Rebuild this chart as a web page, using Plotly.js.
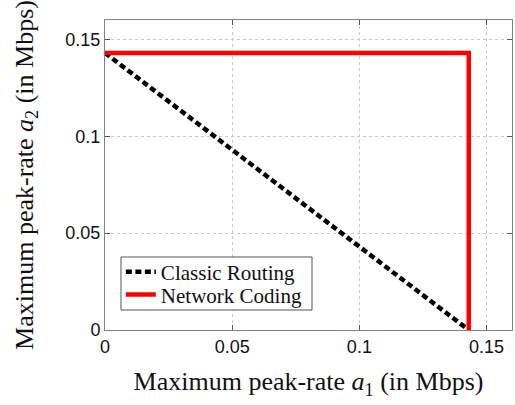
<!DOCTYPE html>
<html>
<head>
<meta charset="utf-8">
<script src="https://cdn.plot.ly/plotly-3.0.1.min.js"></script>
<style>html,body{margin:0;padding:0;background:#fff;}#chart{width:515px;height:405px;}</style>
</head>
<body>
<div id="chart"></div>
<script>
var seriesNames = ["Classic Routing", "Network Coding"];
var classicX = [0, 0.143];
var classicY = [0.143, 0];
var codingX = [0, 0.143, 0.143];
var codingY = [0.143, 0.143, 0];
var xTicks = [0, 0.05, 0.1, 0.15];
var yTicks = [0, 0.05, 0.1, 0.15];
var xTickText = ["0", "0.05", "0.1", "0.15"];
var yTickText = ["0", "0.05", "0.1", "0.15"];

var traces = [
  {x: classicX, y: classicY, mode: "lines", name: seriesNames[0], legend: "legend",
   line: {color: "#000", width: 4.5, dash: "6px,3.5px"}},
  {x: codingX, y: codingY, mode: "lines", name: seriesNames[1], legend: "legend2",
   line: {color: "#ff0000", width: 4.5}}
];

var serif = "Liberation Serif, Times New Roman, serif";
var axisCommon = {
  range: [0, 0.16], showgrid: true, gridcolor: "#c8c8c8", griddash: "dot", gridwidth: 1,
  zeroline: false, showline: true, linecolor: "#808080", linewidth: 1, mirror: "allticks",
  ticks: "inside", ticklen: 5, tickcolor: "#555", ticklabelstandoff: 0, automargin: false,
  tickfont: {family: "Liberation Sans, Arial", size: 18, color: "#111"}
};

var legendCommon = {xanchor: "left", yanchor: "middle", bgcolor: "rgba(0,0,0,0)", borderwidth: 0,
  font: {family: serif, size: 21, color: "#111"}, itemwidth: 30};

var layout = {
  width: 515, height: 405,
  margin: {l: 105, r: 3, t: 20, b: 75},
  paper_bgcolor: "#fff", plot_bgcolor: "#fff",
  showlegend: true,
  legend: Object.assign({}, legendCommon, {x: 0.039, y: 0.187}),
  legend2: Object.assign({}, legendCommon, {x: 0.039, y: 0.113}),
  shapes: [{type: "rect", xref: "paper", yref: "paper", x0: 0.0393, x1: 0.5086, y0: 0.0645, y1: 0.2355,
            line: {color: "#555", width: 1}, fillcolor: "#fff", layer: "above"}],
  xaxis: Object.assign({}, axisCommon, {tickvals: xTicks, ticktext: xTickText,
    title: {text: "Maximum peak-rate <i>a</i><sub>1</sub> (in Mbps)", font: {family: serif, size: 26, color: "#111"}, standoff: 16}}),
  yaxis: Object.assign({}, axisCommon, {tickvals: yTicks, ticktext: yTickText,
    title: {text: "Maximum peak-rate <i>a</i><sub>2</sub> (in Mbps)", font: {family: serif, size: 26, color: "#111"}, standoff: 24}})
};

Plotly.newPlot("chart", traces, layout, {displayModeBar: false, staticPlot: true});
</script>
</body>
</html>
